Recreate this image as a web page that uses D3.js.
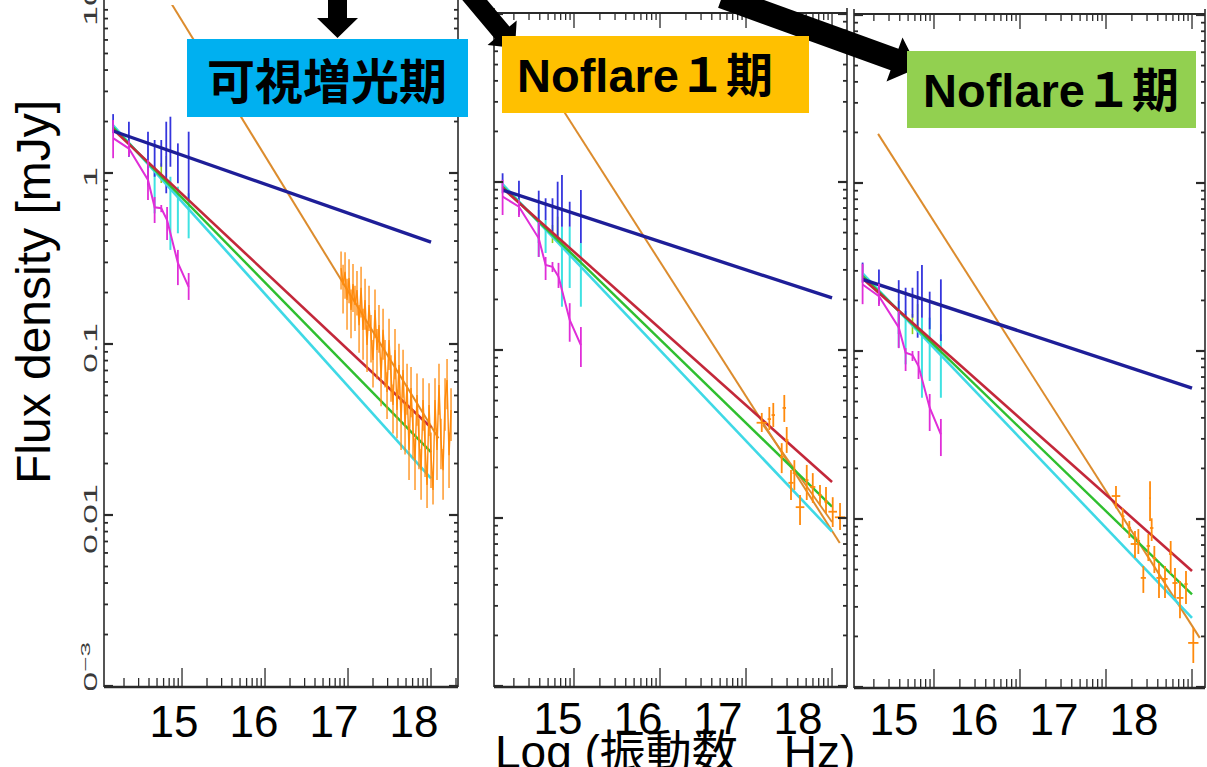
<!DOCTYPE html>
<html>
<head>
<meta charset="utf-8">
<script src="https://cdn.jsdelivr.net/npm/d3@7"></script>
<style>
  body { margin: 0; background: #fff; }
  svg { display: block; }
</style>
</head>
<body>
<svg id="chart" width="1207" height="767"></svg>
<script>
// Frequencies are log10(ν / Hz), fluxes are in mJy.
const xTickLabels = [15, 16, 17, 18];
const yTickValues = [10, 1, 0.1, 0.01, 0.001];
const yTickTexts = ["10", "1", "0.1", "0.01", "10"];
const panelTitles = ["可視増光期", "Noflare１期", "Noflare１期"];
const xTitle = "Log (振動数　Hz)";
const yTitle = "Flux density [mJy]";

// Power-law models: [logν, flux] end points
const p1Blue   = [[14.17, 1.76], [18.0, 0.394]];
const p1Red    = [[14.17, 1.80], [18.0, 0.0325]];
const p1Green  = [[14.17, 1.85], [18.0, 0.0233]];
const p1Cyan   = [[14.17, 1.90], [18.0, 0.0164]];
const p1Orange = [[14.35, 25.3], [18.09, 0.0281]];

const p2Blue   = [[14.17, 0.896], [18.0, 0.204]];
const p2Red    = [[14.17, 0.92], [18.0, 0.0164]];
const p2Green  = [[14.17, 0.94], [18.0, 0.0117]];
const p2Cyan   = [[14.17, 0.97], [18.0, 0.0083]];
const p2Orange = [[14.35, 7.03], [18.09, 0.0071]];
const p2XFit   = [[17.198, 0.0358], [18.0, 0.00947]];

const p3Blue   = [[14.17, 0.267], [18.0, 0.0602]];
const p3Red    = [[14.17, 0.27], [18.0, 0.0049]];
const p3Green  = [[14.17, 0.28], [18.0, 0.00356]];
const p3Cyan   = [[14.17, 0.29], [18.0, 0.00258]];
const p3Orange = [[14.35, 1.96], [18.09, 0.00196]];

// Optical / UV photometry
const magentaNu  = [14.17, 14.36, 14.59, 14.67, 14.75, 14.82, 14.95, 15.08];
const blueBarNu  = [14.17, 14.36, 14.59, 14.67, 14.75, 14.81, 14.86, 14.95, 15.08];
const cyanBarNu  = [14.59, 14.67, 14.86, 14.95, 15.08];
const greenBarNu = [14.75, 14.81];

// [flux, low, high]
const p1Magenta = [[1.60, 1.22, 2.04], [1.39, 1.25, 1.55], [0.910, 0.695, 1.19], [0.630, 0.510, 0.724],
                   [0.622, 0.59, 0.65], [0.531, 0.406, 0.633], [0.298, 0.221, 0.355], [0.216, 0.181, 0.260]];
const p2Magenta = [[0.818, 0.636, 1.03], [0.713, 0.62, 0.78], [0.462, 0.358, 0.578], [0.321, 0.261, 0.358],
                   [0.313, 0.291, 0.334], [0.273, 0.234, 0.330], [0.151, 0.112, 0.190], [0.107, 0.0792, 0.137]];
const p3Magenta = [[0.249, 0.190, 0.330], [0.212, 0.185, 0.251], [0.138, 0.104, 0.173], [0.0977, 0.0760, 0.104],
                   [0.0947, 0.0872, 0.100], [0.0814, 0.0681, 0.100], [0.0460, 0.0334, 0.0555], [0.0319, 0.0237, 0.0394]];

// [low, high]
const p1BlueBars = [[1.71, 2.21], [1.245, 1.995], [0.851, 1.744], [0.951, 1.56], [1.088, 1.56],
                    [0.761, 1.995], [1.088, 2.134], [0.871, 1.49], [0.695, 1.744]];
const p2BlueBars = [[0.856, 1.127], [0.636, 1.018], [0.433, 0.888], [0.594, 0.800], [0.506, 0.800],
                    [0.452, 1.004], [0.542, 1.10], [0.542, 0.763], [0.433, 0.896]];
const p3BlueBars = [[0.255, 0.336], [0.190, 0.306], [0.126, 0.264], [0.158, 0.238], [0.158, 0.238],
                    [0.120, 0.299], [0.158, 0.325], [0.1346, 0.2255], [0.1148, 0.267]];

const p1CyanBars = [[0.832, 1.191], [0.581, 1.088], [0.355, 0.951], [0.444, 0.832], [0.415, 0.761]];
const p2CyanBars = [[0.358, 0.681], [0.378, 0.594], [0.181, 0.542], [0.234, 0.542], [0.181, 0.433]];
const p3CyanBars = [[0.1047, 0.1985], [0.0833, 0.173], [0.0527, 0.158], [0.0663, 0.158], [0.0527, 0.1257]];

const p1GreenBars = [[0.874, 1.14], [0.947, 1.257]];
const p2GreenBars = [[0.433, 0.554], [0.473, 0.622]];
const p3GreenBars = [[0.126, 0.166], [0.137, 0.190]];

// X-ray spectrum during the optical brightening: [logν, flux, error]
const p1XRay = [
  [16.916, 0.278, 0.07], [16.940, 0.221, 0.07], [16.964, 0.264, 0.08], [16.988, 0.181, 0.06],
  [17.012, 0.243, 0.07], [17.036, 0.158, 0.05], [17.060, 0.224, 0.07], [17.084, 0.169, 0.05],
  [17.108, 0.207, 0.06], [17.133, 0.129, 0.04], [17.157, 0.213, 0.07], [17.181, 0.121, 0.04],
  [17.205, 0.181, 0.06], [17.229, 0.0986, 0.03], [17.253, 0.169, 0.05], [17.277, 0.113, 0.035],
  [17.301, 0.0806, 0.025], [17.325, 0.158, 0.05], [17.349, 0.0922, 0.03], [17.373, 0.129, 0.04],
  [17.398, 0.0633, 0.02], [17.422, 0.121, 0.04], [17.446, 0.0806, 0.025], [17.470, 0.0524, 0.016],
  [17.494, 0.1055, 0.035], [17.518, 0.0659, 0.02], [17.542, 0.0440, 0.014], [17.566, 0.0922, 0.03],
  [17.590, 0.0411, 0.013], [17.614, 0.0754, 0.025], [17.639, 0.0360, 0.012], [17.663, 0.0705, 0.022],
  [17.687, 0.0336, 0.011], [17.711, 0.0576, 0.019], [17.735, 0.0240, 0.008], [17.759, 0.0553, 0.018],
  [17.783, 0.0314, 0.010], [17.807, 0.0210, 0.007], [17.831, 0.0503, 0.017], [17.855, 0.0275, 0.009],
  [17.880, 0.0183, 0.006], [17.904, 0.0471, 0.016], [17.928, 0.0257, 0.009], [17.952, 0.0150, 0.004],
  [17.976, 0.0440, 0.015], [18.000, 0.0224, 0.008], [18.024, 0.0140, 0.0025], [18.048, 0.0471, 0.016],
  [18.072, 0.0240, 0.008], [18.096, 0.0576, 0.019], [18.120, 0.0275, 0.009], [18.145, 0.0183, 0.006],
  [18.169, 0.0471, 0.016], [18.193, 0.0616, 0.02], [18.217, 0.0224, 0.008], [18.241, 0.0411, 0.014]
];

// Quiescent X-ray spectra: [logν, flux, low, high, half-width in logν]
const p2XRay = [
  [17.183, 0.0369, 0.0325, 0.0422, 0.06], [17.271, 0.0388, 0.0334, 0.0458, 0.02],
  [17.317, 0.0410, 0.0348, 0.0484, 0.02], [17.445, 0.0452, 0.0373, 0.0540, 0.02],
  [17.473, 0.0291, 0.0244, 0.0348, 0.02], [17.415, 0.0231, 0.0185, 0.0279, 0.02],
  [17.523, 0.0162, 0.0128, 0.0193, 0.03], [17.562, 0.0185, 0.0147, 0.0221, 0.02],
  [17.628, 0.0116, 0.00908, 0.0137, 0.05], [17.706, 0.0168, 0.0128, 0.0207, 0.02],
  [17.776, 0.0153, 0.0123, 0.0185, 0.03], [17.860, 0.0137, 0.0119, 0.0157, 0.02],
  [17.930, 0.0125, 0.0107, 0.0153, 0.02], [18.008, 0.0109, 0.00884, 0.0133, 0.05],
  [18.093, 0.0101, 0.00849, 0.0123, 0.06]
];
const p3XRay = [
  [17.116, 0.0137, 0.0116, 0.0157, 0.05], [17.194, 0.0104, 0.00884, 0.0116, 0.02],
  [17.271, 0.00888, 0.00771, 0.00973, 0.02], [17.337, 0.00710, 0.00586, 0.00849, 0.05],
  [17.376, 0.00740, 0.00619, 0.00871, 0.02], [17.434, 0.00446, 0.00363, 0.00525, 0.03],
  [17.492, 0.00691, 0.00562, 0.00814, 0.02], [17.512, 0.0133, 0.00973, 0.0168, 0.01],
  [17.531, 0.00884, 0.00740, 0.0101, 0.02], [17.562, 0.00586, 0.00477, 0.00691, 0.02],
  [17.616, 0.00446, 0.00339, 0.00547, 0.03], [17.686, 0.00440, 0.00339, 0.00525, 0.03],
  [17.752, 0.00619, 0.00471, 0.00740, 0.02], [17.802, 0.00416, 0.00339, 0.00511, 0.03],
  [17.860, 0.00339, 0.00257, 0.00427, 0.04], [17.930, 0.00410, 0.00312, 0.00490, 0.02],
  [18.015, 0.00183, 0.00139, 0.00224, 0.06]
];

// ---- layout ----
const frames = [
  { left: 104, right: 458, bottom: 687, yBottom: 686, yTop: 2, clipTop: 5, topLine: null,
    nu: [14.060, 18.325], labelRange: [174, 414], labelY: 737, yLabels: true,
    box: { x: 187, y: 39, w: 281, h: 78, fill: "#00b0f0", tx: 327, ty: 99 } },
  { left: 494, right: 847, bottom: 687, yBottom: 686, yTop: 14, clipTop: 13, topLine: 13,
    nu: [14.070, 18.174], labelRange: [558, 798], labelY: 734, yLabels: false,
    box: { x: 502, y: 36, w: 307, h: 77, fill: "#ffc000", tx: 645, ty: 92 } },
  { left: 854, right: 1205, bottom: 688, yBottom: 687, yTop: 15, clipTop: 14, topLine: 14,
    nu: [14.070, 18.151], labelRange: [894, 1134], labelY: 735, yLabels: false,
    box: { x: 907, y: 51, w: 289, h: 77, fill: "#92d050", tx: 1051, ty: 107 } }
];

const panels = [
  { blue: p1Blue, red: p1Red, green: p1Green, cyan: p1Cyan, orange: p1Orange, xfit: null,
    magenta: p1Magenta, blueBars: p1BlueBars, cyanBars: p1CyanBars, greenBars: p1GreenBars,
    xray: p1XRay, xrayQuiet: null },
  { blue: p2Blue, red: p2Red, green: p2Green, cyan: p2Cyan, orange: p2Orange, xfit: p2XFit,
    magenta: p2Magenta, blueBars: p2BlueBars, cyanBars: p2CyanBars, greenBars: p2GreenBars,
    xray: null, xrayQuiet: p2XRay },
  { blue: p3Blue, red: p3Red, green: p3Green, cyan: p3Cyan, orange: p3Orange, xfit: null,
    magenta: p3Magenta, blueBars: p3BlueBars, cyanBars: p3CyanBars, greenBars: p3GreenBars,
    xray: null, xrayQuiet: p3XRay }
];

const colors = {
  blue: "#1e1e98", red: "#c3283a", green: "#2fbf2f", cyan: "#3fd9e6",
  orangeModel: "#dc8c2e", orangeData: "#ff8a0c", magenta: "#e02ed8",
  blueBar: "#3535dd", cyanBar: "#3fe2e2", greenBar: "#8ccf1c", axis: "#2a2a2a"
};
const latin = "'Liberation Sans', Arial, sans-serif";
const cjk = "'Liberation Sans', 'Noto Sans CJK JP', sans-serif";

const svg = d3.select("#chart");
const defs = svg.append("defs");

function drawPanel(i) {
  const f = frames[i], d = panels[i];
  const g = svg.append("g");
  const x = d3.scaleLinear().domain(f.nu).range([f.left, f.right]);
  const y = d3.scaleLog().domain([1e-3, 10]).range([f.yBottom, f.yTop]);

  defs.append("clipPath").attr("id", "clip" + i)
    .append("rect").attr("x", f.left).attr("y", f.clipTop)
    .attr("width", f.right - f.left).attr("height", f.bottom - f.clipTop);
  const plot = g.append("g").attr("clip-path", `url(#clip${i})`);
  const line = d3.line().x(p => x(p[0])).y(p => y(p[1]));

  // steep power law
  plot.append("path").datum(d.orange).attr("d", line)
    .attr("fill", "none").attr("stroke", colors.orangeModel).attr("stroke-width", 2);
  if (d.xfit) {
    plot.append("path").datum(d.xfit).attr("d", line)
      .attr("fill", "none").attr("stroke", colors.orangeModel).attr("stroke-width", 1.8);
  }

  // optical error bars
  const vbars = (nu, bars, color, w) => {
    plot.append("g").selectAll("line").data(bars).join("line")
      .attr("x1", (b, k) => x(nu[k])).attr("x2", (b, k) => x(nu[k]))
      .attr("y1", b => y(b[0])).attr("y2", b => y(b[1]))
      .attr("stroke", color).attr("stroke-width", w);
  };
  vbars(cyanBarNu, d.cyanBars, colors.cyanBar, 2);
  vbars(greenBarNu, d.greenBars, colors.greenBar, 1.6);
  vbars(blueBarNu, d.blueBars, colors.blueBar, 1.8);

  // model lines
  [["cyan", 2.6], ["green", 2.4], ["red", 2.6], ["blue", 3.4]].forEach(([k, w]) => {
    plot.append("path").datum(d[k]).attr("d", line)
      .attr("fill", "none").attr("stroke", colors[k]).attr("stroke-width", w);
  });

  // magenta photometry with error bars
  const mag = d.magenta.map((m, k) => [magentaNu[k], m[0], m[1], m[2]]);
  plot.append("path").datum(mag).attr("d", line)
    .attr("fill", "none").attr("stroke", colors.magenta).attr("stroke-width", 2);
  plot.append("g").selectAll("line").data(mag).join("line")
    .attr("x1", m => x(m[0])).attr("x2", m => x(m[0]))
    .attr("y1", m => y(m[2])).attr("y2", m => y(m[3]))
    .attr("stroke", colors.magenta).attr("stroke-width", 1.8);

  // flaring X-ray spectrum
  if (d.xray) {
    const xg = plot.append("g");
    xg.append("path").datum(d.xray).attr("d", line)
      .attr("fill", "none").attr("stroke", colors.orangeData).attr("stroke-width", 1.4);
    xg.selectAll("line").data(d.xray).join("line")
      .attr("x1", p => x(p[0])).attr("x2", p => x(p[0]))
      .attr("y1", p => y(Math.max(p[1] - p[2], 1e-4))).attr("y2", p => y(p[1] + p[2]))
      .attr("stroke", colors.orangeData).attr("stroke-width", 1.3);
  }
  // quiescent X-ray points as crosses
  if (d.xrayQuiet) {
    const q = plot.append("g").selectAll("g").data(d.xrayQuiet).join("g");
    q.append("line")
      .attr("x1", p => x(p[0])).attr("x2", p => x(p[0]))
      .attr("y1", p => y(p[2])).attr("y2", p => y(p[3]))
      .attr("stroke", colors.orangeData).attr("stroke-width", 1.8);
    q.append("line")
      .attr("x1", p => x(p[0] - p[4])).attr("x2", p => x(p[0] + p[4]))
      .attr("y1", p => y(p[1])).attr("y2", p => y(p[1]))
      .attr("stroke", colors.orangeData).attr("stroke-width", 1.8);
  }

  // frame and ticks
  const ax = g.append("g").attr("stroke", colors.axis);
  ax.append("line").attr("x1", f.left).attr("x2", f.left).attr("y1", f.clipTop - 5).attr("y2", f.bottom).attr("stroke-width", 1.6);
  ax.append("line").attr("x1", f.right).attr("x2", f.right).attr("y1", f.clipTop - 5).attr("y2", f.bottom).attr("stroke-width", 1.6);
  ax.append("line").attr("x1", f.left).attr("x2", f.right).attr("y1", f.bottom).attr("y2", f.bottom).attr("stroke-width", 2.6);
  if (f.topLine !== null) {
    ax.append("line").attr("x1", f.left).attr("x2", f.right).attr("y1", f.topLine).attr("y2", f.topLine).attr("stroke-width", 2);
  }

  const xt = [];
  for (let dec = 14; dec <= 18; dec++) for (let m = 1; m <= 9; m++) {
    const v = dec + Math.log10(m);
    if (v > f.nu[0] && v < f.nu[1]) xt.push({ v, major: m === 1 });
  }
  ax.append("g").selectAll("line").data(xt).join("line")
    .attr("x1", t => x(t.v)).attr("x2", t => x(t.v))
    .attr("y1", f.bottom).attr("y2", t => f.bottom - (t.major ? 19 : 9)).attr("stroke-width", 1.3);
  if (f.topLine !== null) {
    ax.append("g").selectAll("line").data(xt).join("line")
      .attr("x1", t => x(t.v)).attr("x2", t => x(t.v))
      .attr("y1", f.topLine).attr("y2", t => f.topLine + (t.major ? 15 : 7)).attr("stroke-width", 1.3);
  }

  const yt = [];
  for (let e = -3; e <= 1; e++) for (let m = 1; m <= 9; m++) {
    const v = m * Math.pow(10, e);
    if (v <= 10.0001) yt.push({ v, major: m === 1 });
  }
  ax.append("g").selectAll("line").data(yt.filter(t => y(t.v) >= f.clipTop)).join("line")
    .attr("x1", f.left).attr("x2", t => f.left + (t.major ? 9 : 4))
    .attr("y1", t => y(t.v)).attr("y2", t => y(t.v)).attr("stroke-width", t => t.major ? 2.2 : 1.8);
  ax.append("g").selectAll("line").data(yt.filter(t => y(t.v) >= f.clipTop)).join("line")
    .attr("x1", f.right).attr("x2", t => f.right - (t.major ? 9 : 4))
    .attr("y1", t => y(t.v)).attr("y2", t => y(t.v)).attr("stroke-width", t => t.major ? 2.2 : 1.8);

  // rotated, stretched y tick labels
  if (f.yLabels) {
    defs.append("clipPath").attr("id", "ylab" + i)
      .append("rect").attr("x", 0).attr("y", 0).attr("width", f.left).attr("height", 690);
    const yl = g.append("g").attr("clip-path", `url(#ylab${i})`)
      .attr("font-family", latin).attr("font-size", 18).attr("fill", "#3a3a3a");
    yTickValues.forEach((v, k) => {
      const last = v === 0.001;
      const t = yl.append("text")
        .attr("transform", `translate(97,${y(v) + (last ? -44 : 4)}) rotate(-90) scale(2,1)`)
        .attr("text-anchor", last ? "end" : "middle")
        .text(yTickTexts[k]);
      if (last) t.append("tspan").attr("font-size", 13).attr("dy", -7).text("−3");
    });
  }

  // decade labels
  const lx = d3.scaleLinear().domain([15, 18]).range(f.labelRange);
  svg.append("g").selectAll("text").data(xTickLabels).join("text")
    .attr("x", v => lx(v)).attr("y", f.labelY)
    .attr("text-anchor", "middle").attr("font-family", latin).attr("font-size", 44)
    .attr("fill", "#000").text(v => v);
}

[0, 1, 2].forEach(drawPanel);

// axis titles
svg.append("text")
  .attr("transform", "translate(50,292) rotate(-90)")
  .attr("text-anchor", "middle").attr("font-family", latin).attr("font-size", 48)
  .attr("fill", "#000").text(yTitle);
svg.append("text")
  .attr("x", 495).attr("y", 768)
  .attr("font-family", cjk).attr("font-size", 46)
  .attr("fill", "#000").text(xTitle);

// callout arrows and period labels
function arrowPath(t, h, sw, hl, hw) {
  const dx = h[0] - t[0], dy = h[1] - t[1], L = Math.hypot(dx, dy);
  const ux = dx / L, uy = dy / L, px = -uy, py = ux;
  const bx = h[0] - ux * hl, by = h[1] - uy * hl;
  const pts = [
    [t[0] + px * sw / 2, t[1] + py * sw / 2], [bx + px * sw / 2, by + py * sw / 2],
    [bx + px * hw / 2, by + py * hw / 2], h,
    [bx - px * hw / 2, by - py * hw / 2], [bx - px * sw / 2, by - py * sw / 2],
    [t[0] - px * sw / 2, t[1] - py * sw / 2]
  ];
  return "M" + pts.map(p => p.join(",")).join("L") + "Z";
}
const arrows = [
  { t: [337.5, -6], h: [337.5, 38], sw: 19, hl: 20, hw: 41 },
  { t: [468, -8], h: [515, 48], sw: 19, hl: 20, hw: 38 },
  { t: [722, -3], h: [918, 68], sw: 23, hl: 25, hw: 47 }
];
svg.append("g").selectAll("path").data(arrows).join("path")
  .attr("d", a => arrowPath(a.t, a.h, a.sw, a.hl, a.hw)).attr("fill", "#000");

const boxes = svg.append("g").selectAll("g").data(frames).join("g");
boxes.append("rect")
  .attr("x", f => f.box.x).attr("y", f => f.box.y)
  .attr("width", f => f.box.w).attr("height", f => f.box.h).attr("fill", f => f.box.fill);
boxes.append("text")
  .attr("x", f => f.box.tx).attr("y", f => f.box.ty)
  .attr("text-anchor", "middle").attr("font-family", cjk).attr("font-weight", 700)
  .attr("font-size", (f, k) => k === 0 ? 48 : 47).attr("fill", "#000")
  .text((f, k) => panelTitles[k]);
</script>
</body>
</html>
